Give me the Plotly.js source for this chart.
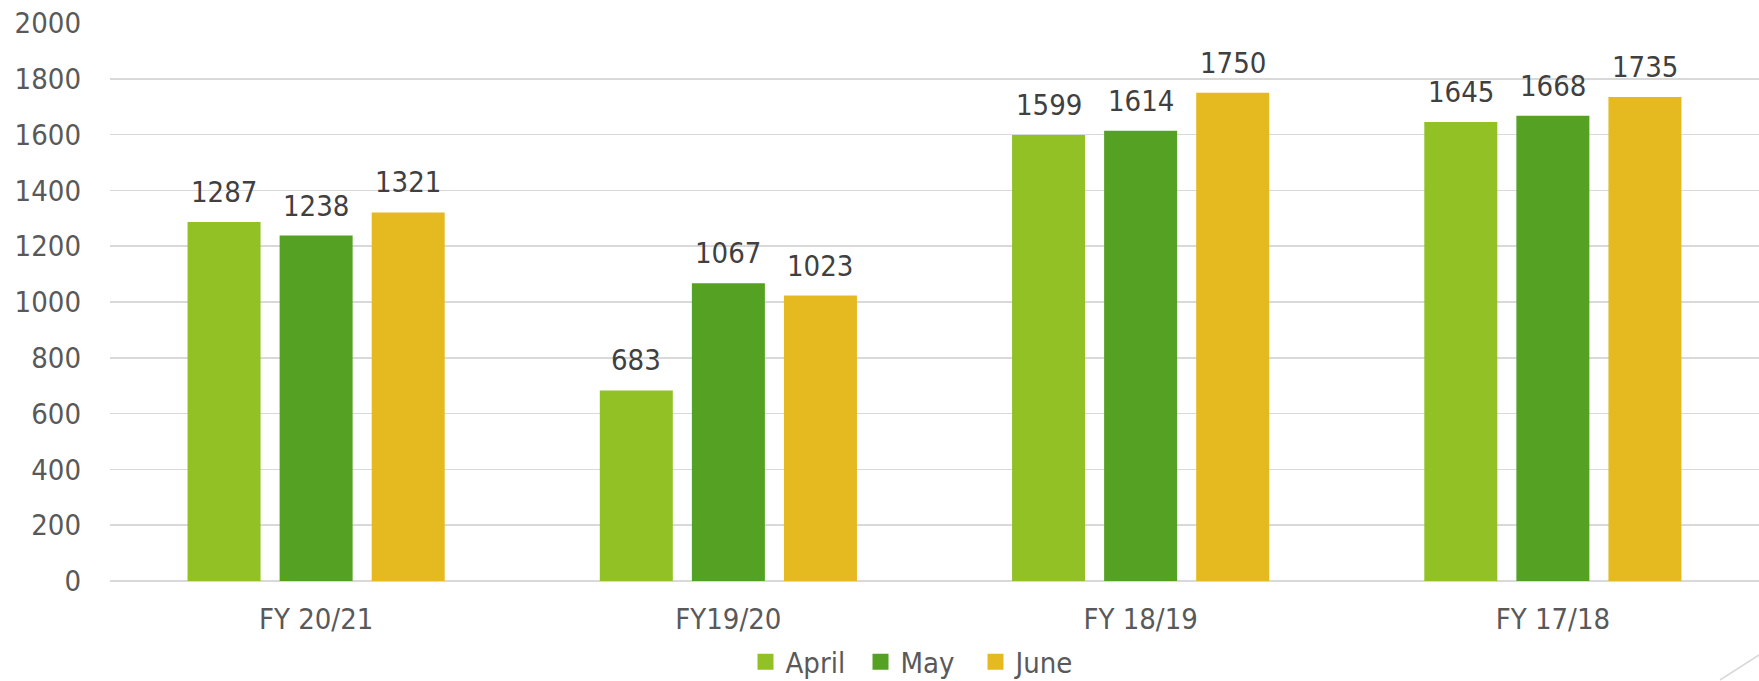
<!DOCTYPE html>
<html>
<head>
<meta charset="utf-8">
<script src="https://cdn.plot.ly/plotly-3.0.1.min.js"></script>
<style>
  html, body { margin: 0; padding: 0; background: #ffffff; }
  #chart { width: 1759px; height: 681px; }
</style>
</head>
<body>
<div id="chart"></div>
<script>
const categories = ["FY 20/21", "FY19/20", "FY 18/19", "FY 17/18"];
const seriesNames = ["April", "May", "June"];
const april = [1287, 683, 1599, 1645];
const may = [1238, 1067, 1614, 1668];
const june = [1321, 1023, 1750, 1735];
const yTicks = [0, 200, 400, 600, 800, 1000, 1200, 1400, 1600, 1800, 2000];

const colors = ["#92C126", "#55A124", "#E5B920"];
const seriesValues = [april, may, june];
const FONT = '"DejaVu Sans Condensed", "DejaVu Sans", sans-serif';

const barTraces = seriesValues.map((vals, i) => ({
  type: "bar",
  name: seriesNames[i],
  x: categories,
  y: vals,
  showlegend: false,
  marker: { color: colors[i], line: { width: 0 } },
  hoverinfo: "x+y+name"
}));

// legend entries only (a single empty point, nothing drawn): larger square swatches
const legendTraces = seriesNames.map((name, i) => ({
  type: "scatter",
  mode: "markers",
  name: name,
  x: [categories[0]],
  y: [null],
  showlegend: true,
  hoverinfo: "skip",
  marker: { symbol: "square", color: colors[i], size: 16 }
}));

// data labels as annotations, offset to each bar position in the group
const barPitch = 92;
const annotations = [];
seriesValues.forEach((vals, i) => {
  vals.forEach((v, j) => {
    annotations.push({
      x: categories[j], y: v, xref: "x", yref: "y",
      text: String(v), showarrow: false,
      xshift: (i - 1) * barPitch, yshift: 11,
      yanchor: "bottom", xanchor: "center",
      font: { family: FONT, size: 29, color: "#404040" }
    });
  });
});

const layout = {
  width: 1759, height: 681,
  margin: { l: 110, r: 0, t: 23, b: 100 },
  paper_bgcolor: "#ffffff", plot_bgcolor: "#ffffff",
  font: { family: FONT, size: 29, color: "#595959" },
  barmode: "group",
  bargap: 0.33,
  bargroupgap: 0.207,
  xaxis: {
    type: "category",
    showgrid: false,
    showline: false,
    zeroline: false,
    ticks: "",
    ticklabelstandoff: 18,
    tickfont: { family: FONT, size: 29, color: "#595959" }
  },
  yaxis: {
    range: [0, 2000],
    tickvals: yTicks,
    ticktext: yTicks.map(String),
    showgrid: true,
    gridcolor: "#d9d9d9",
    gridwidth: 1.5,
    zeroline: true,
    zerolinecolor: "#d9d9d9",
    zerolinewidth: 1.5,
    showline: false,
    ticks: "",
    ticklabelstandoff: 28,
    tickfont: { family: FONT, size: 29, color: "#595959" }
  },
  legend: {
    orientation: "h",
    x: 0.49, xanchor: "center",
    yref: "container",
    y: 19 / 681, yanchor: "middle",
    entrywidth: 70, entrywidthmode: "pixels",
    font: { family: FONT, size: 29, color: "#595959" },
    itemclick: false
  },
  annotations: annotations,
  shapes: [{
    type: "line", xref: "paper", yref: "paper",
    x0: (1720 - 110) / 1649, y0: -99 / 558,
    x1: 1.0, y1: -74 / 558,
    line: { color: "#d9d9d9", width: 1.5 }
  }],
  showlegend: true
};

Plotly.newPlot("chart", barTraces.concat(legendTraces), layout, { displayModeBar: false, staticPlot: true });
</script>
</body>
</html>
